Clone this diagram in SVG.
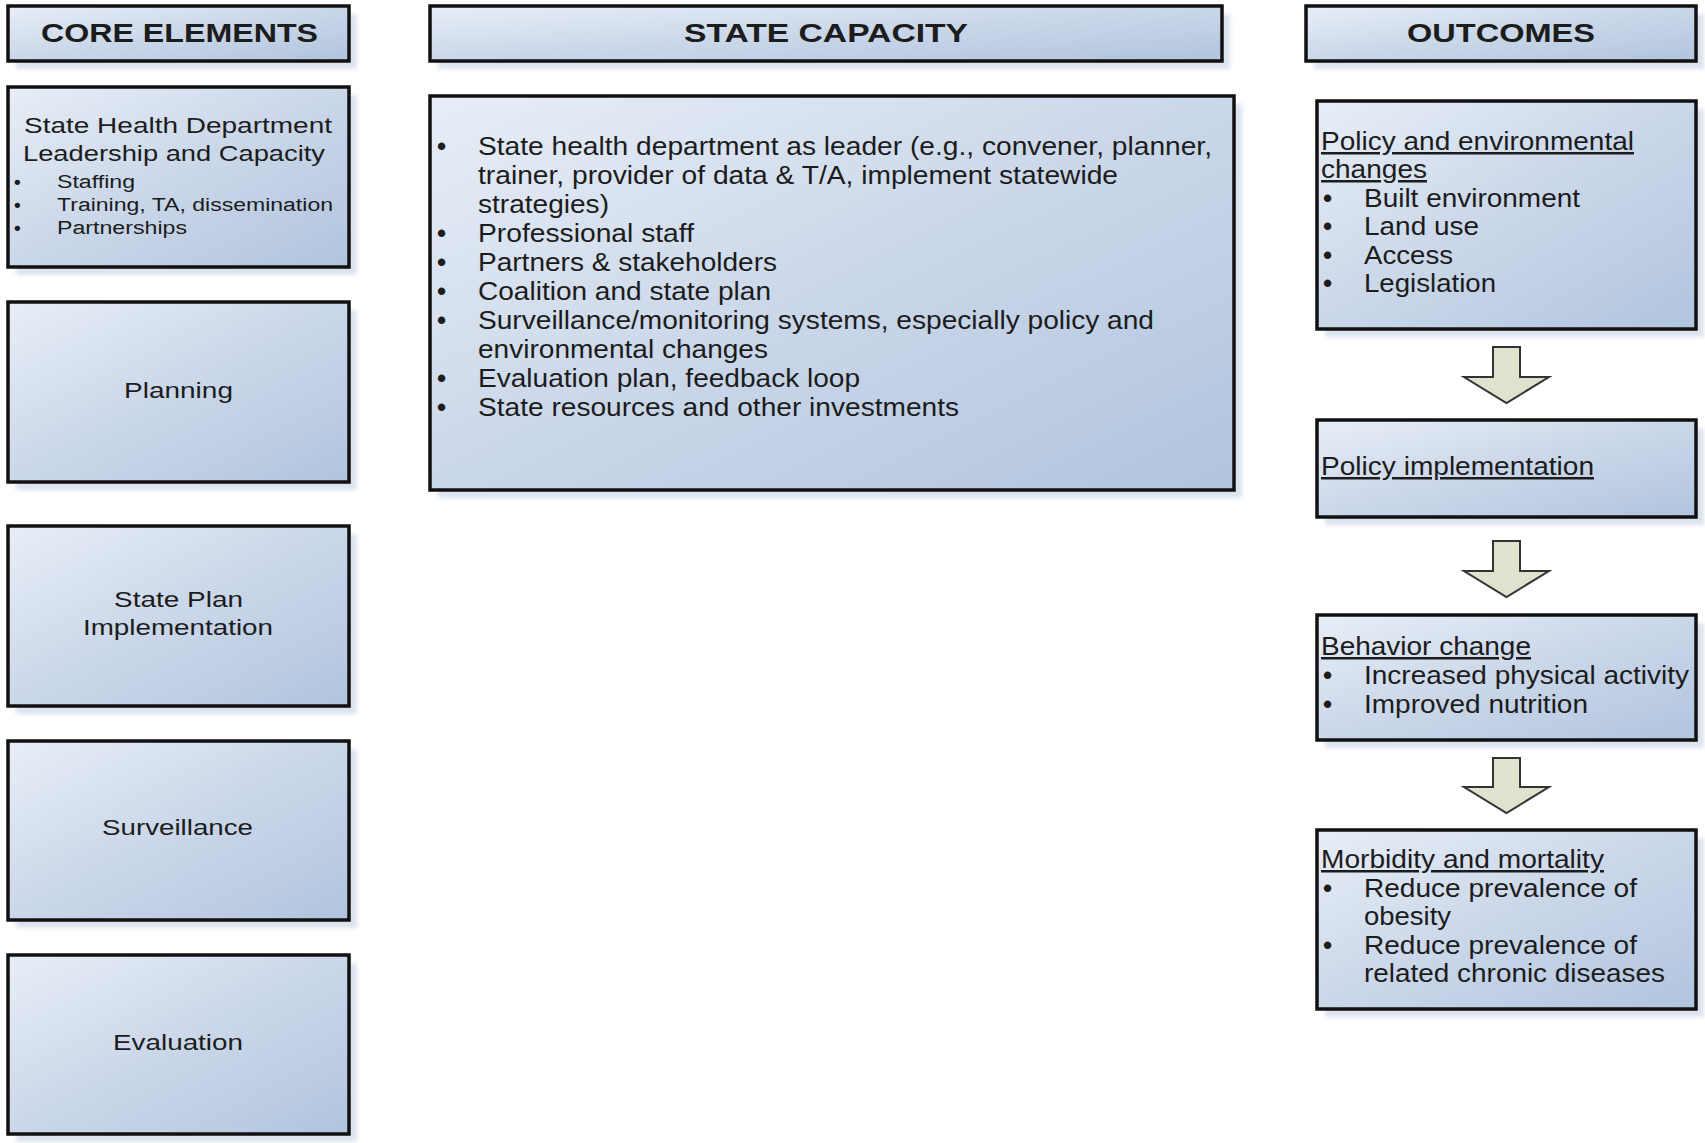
<svg xmlns="http://www.w3.org/2000/svg" width="1705" height="1143" viewBox="0 0 1705 1143">
<defs>
<linearGradient id="g" x1="0" y1="0" x2="1" y2="1">
<stop offset="0" stop-color="#e8eef7"/>
<stop offset="0.5" stop-color="#cad7e9"/>
<stop offset="1" stop-color="#b1c4de"/>
</linearGradient>
<filter id="blur" x="-5%" y="-5%" width="110%" height="110%"><feGaussianBlur stdDeviation="2"/></filter>
</defs>
<style>
.sh{fill:#dbe3ee;filter:url(#blur)}
.box{fill:url(#g);stroke:#111;stroke-width:3.5}
text{font-family:"Liberation Sans",Arial,sans-serif;fill:#1c1c1c}
.hd{font-size:26px;font-weight:bold}
.c1{font-size:22px}
.c1s{font-size:18px}
.c2{font-size:25px}
.b1{font-size:19px;font-weight:bold}
.b2{font-size:26px;font-weight:bold}
.u{text-decoration:underline}
.arr{fill:#dfe2cd;stroke:#333;stroke-width:2;stroke-linejoin:miter}
</style>
<rect width="1705" height="1143" fill="#fff"/>

<g id="hdr-core">
<rect class="sh" x="16" y="14" width="341" height="55"/>
<rect class="box" x="8" y="6" width="341" height="55"/>
<text class="hd" x="41" y="42" textLength="277" lengthAdjust="spacingAndGlyphs">CORE ELEMENTS</text>
</g>
<g id="hdr-state">
<rect class="sh" x="438" y="14" width="792" height="55"/>
<rect class="box" x="430" y="6" width="792" height="55"/>
<text class="hd" x="684" y="42" textLength="284" lengthAdjust="spacingAndGlyphs">STATE CAPACITY</text>
</g>
<g id="hdr-out">
<rect class="sh" x="1314" y="14" width="390" height="55"/>
<rect class="box" x="1306" y="6" width="390" height="55"/>
<text class="hd" x="1407" y="42" textLength="188" lengthAdjust="spacingAndGlyphs">OUTCOMES</text>
</g>

<g id="core-leadership">
<rect class="sh" x="16" y="95" width="341" height="180"/>
<rect class="box" x="8" y="87" width="341" height="180"/>
<text class="c1" x="24" y="133" textLength="308" lengthAdjust="spacingAndGlyphs">State Health Department</text>
<text class="c1" x="23" y="161" textLength="302" lengthAdjust="spacingAndGlyphs">Leadership and Capacity</text>
<text class="b1" x="14" y="188">•</text>
<text class="c1s" x="57" y="188" textLength="78" lengthAdjust="spacingAndGlyphs">Staffing</text>
<text class="b1" x="14" y="211">•</text>
<text class="c1s" x="57" y="211" textLength="276" lengthAdjust="spacingAndGlyphs">Training, TA, dissemination</text>
<text class="b1" x="14" y="234">•</text>
<text class="c1s" x="57" y="234" textLength="130" lengthAdjust="spacingAndGlyphs">Partnerships</text>
</g>
<g id="core-planning">
<rect class="sh" x="16" y="310" width="341" height="180"/>
<rect class="box" x="8" y="302" width="341" height="180"/>
<text class="c1" x="124" y="398" textLength="109" lengthAdjust="spacingAndGlyphs">Planning</text>
</g>
<g id="core-implementation">
<rect class="sh" x="16" y="534" width="341" height="180"/>
<rect class="box" x="8" y="526" width="341" height="180"/>
<text class="c1" x="114" y="607" textLength="129" lengthAdjust="spacingAndGlyphs">State Plan</text>
<text class="c1" x="83" y="635" textLength="190" lengthAdjust="spacingAndGlyphs">Implementation</text>
</g>
<g id="core-surveillance">
<rect class="sh" x="16" y="749" width="341" height="179"/>
<rect class="box" x="8" y="741" width="341" height="179"/>
<text class="c1" x="102" y="835" textLength="151" lengthAdjust="spacingAndGlyphs">Surveillance</text>
</g>
<g id="core-evaluation">
<rect class="sh" x="16" y="963" width="341" height="179"/>
<rect class="box" x="8" y="955" width="341" height="179"/>
<text class="c1" x="113" y="1050" textLength="130" lengthAdjust="spacingAndGlyphs">Evaluation</text>
</g>

<g id="state-capacity">
<rect class="sh" x="438" y="104" width="804" height="394"/>
<rect class="box" x="430" y="96" width="804" height="394"/>
<text class="b2" x="437" y="155">•</text>
<text class="c2" x="478" y="155" textLength="734" lengthAdjust="spacingAndGlyphs">State health department as leader (e.g., convener, planner,</text>
<text class="c2" x="478" y="184" textLength="640" lengthAdjust="spacingAndGlyphs">trainer, provider of data &amp; T/A, implement statewide</text>
<text class="c2" x="478" y="213" textLength="131" lengthAdjust="spacingAndGlyphs">strategies)</text>
<text class="b2" x="437" y="242">•</text>
<text class="c2" x="478" y="242" textLength="216" lengthAdjust="spacingAndGlyphs">Professional staff</text>
<text class="b2" x="437" y="271">•</text>
<text class="c2" x="478" y="271" textLength="299" lengthAdjust="spacingAndGlyphs">Partners &amp; stakeholders</text>
<text class="b2" x="437" y="300">•</text>
<text class="c2" x="478" y="300" textLength="293" lengthAdjust="spacingAndGlyphs">Coalition and state plan</text>
<text class="b2" x="437" y="329">•</text>
<text class="c2" x="478" y="329" textLength="676" lengthAdjust="spacingAndGlyphs">Surveillance/monitoring systems, especially policy and</text>
<text class="c2" x="478" y="358" textLength="290" lengthAdjust="spacingAndGlyphs">environmental changes</text>
<text class="b2" x="437" y="387">•</text>
<text class="c2" x="478" y="387" textLength="382" lengthAdjust="spacingAndGlyphs">Evaluation plan, feedback loop</text>
<text class="b2" x="437" y="416">•</text>
<text class="c2" x="478" y="416" textLength="481" lengthAdjust="spacingAndGlyphs">State resources and other investments</text>
</g>

<g id="out-policy-env">
<rect class="sh" x="1325" y="109" width="379" height="228"/>
<rect class="box" x="1317" y="101" width="379" height="228"/>
<text class="c2 u" x="1321" y="150" textLength="313" lengthAdjust="spacingAndGlyphs">Policy and environmental</text>
<text class="c2 u" x="1321" y="178" textLength="106" lengthAdjust="spacingAndGlyphs">changes</text>
<text class="b2" x="1323" y="207">•</text>
<text class="c2" x="1364" y="207" textLength="216" lengthAdjust="spacingAndGlyphs">Built environment</text>
<text class="b2" x="1323" y="235">•</text>
<text class="c2" x="1364" y="235" textLength="115" lengthAdjust="spacingAndGlyphs">Land use</text>
<text class="b2" x="1323" y="264">•</text>
<text class="c2" x="1364" y="264" textLength="89" lengthAdjust="spacingAndGlyphs">Access</text>
<text class="b2" x="1323" y="292">•</text>
<text class="c2" x="1364" y="292" textLength="132" lengthAdjust="spacingAndGlyphs">Legislation</text>
</g>
<g id="out-policy-impl">
<rect class="sh" x="1325" y="428" width="379" height="97"/>
<rect class="box" x="1317" y="420" width="379" height="97"/>
<text class="c2 u" x="1321" y="475" textLength="273" lengthAdjust="spacingAndGlyphs">Policy implementation</text>
</g>
<g id="out-behavior">
<rect class="sh" x="1325" y="623" width="379" height="125"/>
<rect class="box" x="1317" y="615" width="379" height="125"/>
<text class="c2 u" x="1321" y="655" textLength="210" lengthAdjust="spacingAndGlyphs">Behavior change</text>
<text class="b2" x="1323" y="684">•</text>
<text class="c2" x="1364" y="684" textLength="325" lengthAdjust="spacingAndGlyphs">Increased physical activity</text>
<text class="b2" x="1323" y="713">•</text>
<text class="c2" x="1364" y="713" textLength="224" lengthAdjust="spacingAndGlyphs">Improved nutrition</text>
</g>
<g id="out-morbidity">
<rect class="sh" x="1325" y="838" width="379" height="179"/>
<rect class="box" x="1317" y="830" width="379" height="179"/>
<text class="c2 u" x="1321" y="868" textLength="283" lengthAdjust="spacingAndGlyphs">Morbidity and mortality</text>
<text class="b2" x="1323" y="897">•</text>
<text class="c2" x="1364" y="897" textLength="273" lengthAdjust="spacingAndGlyphs">Reduce prevalence of</text>
<text class="c2" x="1364" y="925" textLength="87" lengthAdjust="spacingAndGlyphs">obesity</text>
<text class="b2" x="1323" y="954">•</text>
<text class="c2" x="1364" y="954" textLength="273" lengthAdjust="spacingAndGlyphs">Reduce prevalence of</text>
<text class="c2" x="1364" y="982" textLength="301" lengthAdjust="spacingAndGlyphs">related chronic diseases</text>
</g>

<g id="connectors">
<path class="arr" d="M1493,347 H1520 V377 H1549 L1506.5,403 L1464,377 H1493 Z"/>
<path class="arr" d="M1493,541 H1520 V571 H1549 L1506.5,597 L1464,571 H1493 Z"/>
<path class="arr" d="M1493,758 H1520 V787 H1549 L1506.5,813 L1464,787 H1493 Z"/>
</g>
</svg>
